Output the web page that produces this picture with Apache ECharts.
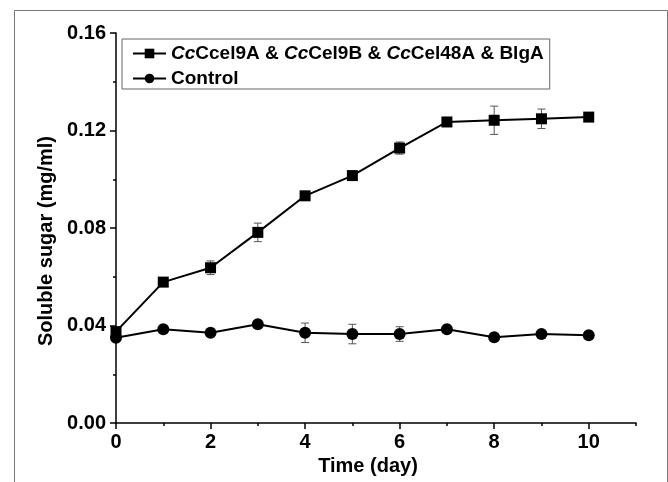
<!DOCTYPE html>
<html>
<head>
<meta charset="utf-8">
<script src="https://cdn.jsdelivr.net/npm/echarts@6/dist/echarts.min.js"></script>
<style>
html,body{margin:0;padding:0;background:#fff;}
#c{width:668px;height:482px;}
</style>
</head>
<body>
<div id="c"></div>
<script>
// ---- data ----
var days = [0, 1, 2, 3, 4, 5, 6, 7, 8, 9, 10];
var enzymeName = 'CcCcel9A & CcCel9B & CcCel48A & BlgA';
var controlName = 'Control';
var enzymeSugar = [0.0375, 0.0578, 0.0637, 0.0782, 0.0932, 0.1015, 0.1128, 0.1235, 0.1242, 0.1248, 0.1255];
var enzymeErr   = [0.0010, 0.0008, 0.0028, 0.0038, 0.0015, 0.0017, 0.0025, 0.0008, 0.0058, 0.0040, 0.0008];
var controlSugar = [0.0350, 0.0385, 0.0370, 0.0405, 0.0370, 0.0365, 0.0365, 0.0385, 0.0352, 0.0365, 0.0360];
var controlErr   = [0.0008, 0.0008, 0.0008, 0.0015, 0.0040, 0.0040, 0.0030, 0.0010, 0.0008, 0.0008, 0.0008];
var xMajorTicks = [0, 2, 4, 6, 8, 10];
var xMinorTicks = [1, 3, 5, 7, 9, 11];
var xAxisTitle = 'Time (day)';
var yAxisTitle = 'Soluble sugar (mg/ml)';

var FONT = '"Liberation Sans", Arial, sans-serif';

function pairs(xs, ys) { return xs.map(function (x, i) { return [x, ys[i]]; }); }
function errTriples(xs, ys, es) { return xs.map(function (x, i) { return [x, ys[i], es[i]]; }); }

function errRender(params, api) {
  var x = api.value(0), y = api.value(1), e = api.value(2);
  var lo = api.coord([x, y - e]);
  var hi = api.coord([x, y + e]);
  var cap = 4;
  var st = { stroke: '#555', lineWidth: 1 };
  return {
    type: 'group',
    children: [
      { type: 'line', shape: { x1: lo[0], y1: lo[1], x2: hi[0], y2: hi[1] }, style: st },
      { type: 'line', shape: { x1: lo[0] - cap, y1: lo[1], x2: lo[0] + cap, y2: lo[1] }, style: st },
      { type: 'line', shape: { x1: hi[0] - cap, y1: hi[1], x2: hi[0] + cap, y2: hi[1] }, style: st }
    ]
  };
}

var chart = echarts.init(document.getElementById('c'), null, { renderer: 'canvas' });
chart.setOption({
  animation: false,
  backgroundColor: '#fff',
  graphic: [{
    type: 'rect', left: 12, top: 8, z: -10,
    shape: { width: 653, height: 520 },
    style: { fill: 'none', stroke: '#777', lineWidth: 1 }
  }],
  legend: {
    orient: 'vertical',
    left: 122, top: 39,
    padding: [5, 6, 1, 10],
    itemGap: 6,
    itemWidth: 33,
    itemHeight: 12,
    borderColor: '#666',
    borderWidth: 1,
    data: [enzymeName, controlName],
    formatter: function (name) {
      if (name === enzymeName) {
        return '{i|Cc}{b|Ccel9A & }{i|Cc}{b|Cel9B & }{i|Cc}{b|Cel48A & BlgA}';
      }
      return '{b|' + name + '}';
    },
    textStyle: {
      fontFamily: FONT, fontSize: 19, fontWeight: 'bold', color: '#000',
      rich: {
        i: { fontFamily: FONT, fontSize: 19, fontWeight: 'bold', fontStyle: 'italic', color: '#000' },
        b: { fontFamily: FONT, fontSize: 19, fontWeight: 'bold', color: '#000' }
      }
    }
  },
  grid: { left: 116, right: 32, top: 33, bottom: 59, containLabel: false },
  xAxis: [{
    type: 'value', min: 0, max: 11,
    name: xAxisTitle, nameLocation: 'middle', nameGap: 33,
    nameTextStyle: { fontFamily: FONT, fontSize: 20, fontWeight: 'bold', color: '#000', padding: [0, 16, 0, 0] },
    axisLine: { show: true, onZero: false, lineStyle: { color: '#000', width: 1.5 } },
    axisTick: { show: true, customValues: xMajorTicks, length: 6, inside: false, lineStyle: { color: '#000', width: 1.5 } },
    axisLabel: { customValues: xMajorTicks, margin: 9, fontFamily: FONT, fontSize: 20, fontWeight: 'bold', color: '#000' },
    splitLine: { show: false }
  }, {
    type: 'value', min: 0, max: 11, position: 'bottom', offset: 0,
    axisLine: { show: false },
    axisTick: { show: true, customValues: xMinorTicks, length: 3, lineStyle: { color: '#000', width: 1.5 } },
    axisLabel: { show: false },
    splitLine: { show: false }
  }],
  yAxis: {
    type: 'value', min: 0, max: 0.16, interval: 0.04,
    name: yAxisTitle, nameLocation: 'middle', nameGap: 57,
    nameTextStyle: { fontFamily: FONT, fontSize: 20, fontWeight: 'bold', color: '#000', padding: [0, 26, 0, 0] },
    axisLine: { show: true, onZero: false, lineStyle: { color: '#000', width: 1.5 } },
    axisTick: { show: true, length: 6, lineStyle: { color: '#000', width: 1.5 } },
    minorTick: { show: true, splitNumber: 2, length: 3, lineStyle: { color: '#000', width: 1.5 } },
    axisLabel: {
      margin: 10, fontFamily: FONT, fontSize: 20, fontWeight: 'bold', color: '#000',
      formatter: function (v) { return v.toFixed(2); }
    },
    splitLine: { show: false }
  },
  series: [{
    type: 'custom', name: 'enzymeErr', renderItem: errRender, z: 1, silent: true,
    data: errTriples(days, enzymeSugar, enzymeErr)
  }, {
    type: 'custom', name: 'controlErr', renderItem: errRender, z: 1, silent: true,
    data: errTriples(days, controlSugar, controlErr)
  }, {
    type: 'line', name: enzymeName, z: 3,
    data: pairs(days, enzymeSugar),
    symbol: 'rect', symbolSize: 11,
    itemStyle: { color: '#000' },
    lineStyle: { color: '#000', width: 2 }
  }, {
    type: 'line', name: controlName, z: 3,
    data: pairs(days, controlSugar),
    symbol: 'circle', symbolSize: 12,
    itemStyle: { color: '#000' },
    lineStyle: { color: '#000', width: 2 }
  }]
});
</script>
</body>
</html>
